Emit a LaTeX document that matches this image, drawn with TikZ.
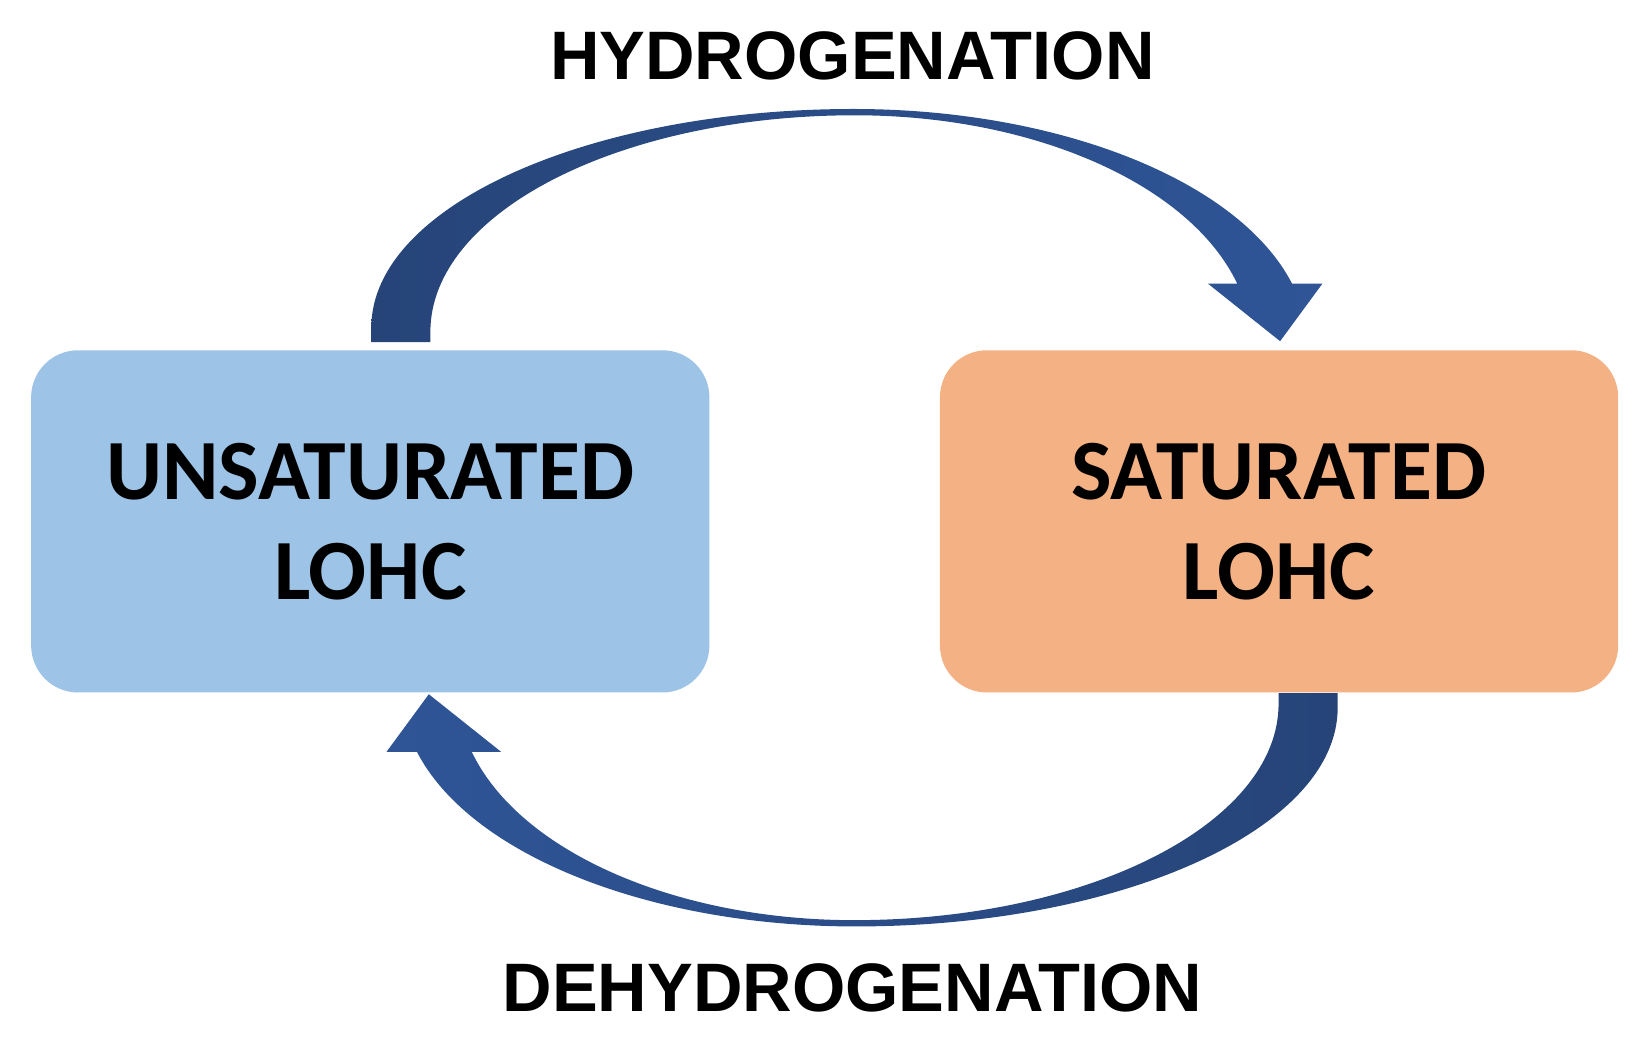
\documentclass[tikz,border=0pt]{standalone}
\usepackage{fontspec}
\newfontfamily\boxfont{Carlito}
\newfontfamily\labfont{Liberation Sans}
\usetikzlibrary{positioning,calc}
\definecolor{unsatblue}{HTML}{9DC3E6}
\definecolor{satorange}{HTML}{F4B183}
\definecolor{arrowdark}{HTML}{264478}
\definecolor{arrowlight}{HTML}{2F5597}

\begin{document}
\begin{tikzpicture}[
  x=0.0104592cm, y=0.0104592cm,
  lohc/.style={rounded corners=0.47cm, minimum width=6.778cm, minimum height=3.42cm,
               align=center, inner sep=0pt,
               font=\boxfont\bfseries\fontsize{24.4}{28.5}\selectfont},
  proc/.style={inner sep=0pt, font=\labfont\bfseries\fontsize{19.5}{23}\selectfont},
]
\useasboundingbox (0,0) rectangle (1568,992);

%% ---------- the two LOHC states ----------
\node[lohc, fill=unsatblue] (unsat) at (354,493.5) {UNSATURATED\\LOHC};
\node[lohc, fill=satorange, right=2.29cm of unsat] (sat) {SATURATED\\LOHC};

\node[proc] (hyd) at (815,939) {HYDROGENATION};
\node[proc] (dehyd) at (815,47) {DEHYDROGENATION};

%% ---------- hydrogenation arrow ----------
\coordinate (hs) at ($(unsat.north)+(1,7)$);
\coordinate (ht) at ($(sat.north)+(1,8)$);
\shade[left color=arrowdark, right color=arrowlight]
  (hs) -- ++(0,14)
  arc[start angle=180, end angle=90, x radius=461, y radius=209]
  arc[start angle=90, end angle=14.94, x radius=434, y radius=225]
  -- ++(29,0) -- (ht) -- ++(-69,55) -- ++(28,0)
  arc[start angle=15.36, end angle=90, x radius=379, y radius=219]
  arc[start angle=90, end angle=180, x radius=406, y radius=207]
  -- ++(0,-10) -- cycle;

%% ---------- dehydrogenation arrow ----------
\coordinate (ds) at ($(sat.south)+(56,0)$);
\coordinate (dt) at ($(unsat.south)+(56,-1)$);
\shade[left color=arrowlight, right color=arrowdark]
  (ds) -- ++(0,-14)
  arc[start angle=0, end angle=-90, x radius=461, y radius=209]
  arc[start angle=-90, end angle=-165.06, x radius=434, y radius=225]
  -- ++(-29,0) -- (dt) -- ++(69,-55) -- ++(-28,0)
  arc[start angle=-164.64, end angle=-90, x radius=379, y radius=219]
  arc[start angle=-90, end angle=0, x radius=406, y radius=207]
  -- ++(0,10) -- cycle;

\end{tikzpicture}
\end{document}
